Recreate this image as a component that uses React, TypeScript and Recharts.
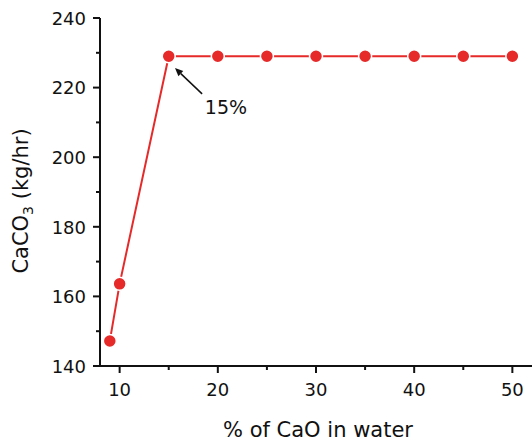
import { LineChart, Line, XAxis, YAxis, ReferenceLine, ReferenceDot } from 'recharts';

const caoPct = [9, 10, 15, 20, 25, 30, 35, 40, 45, 50];
const caco3 = [147.2, 163.6, 229, 229, 229, 229, 229, 229, 229, 229];

const xTicks = [10, 15, 20, 25, 30, 35, 40, 45, 50];
const xMajor = [10, 20, 30, 40, 50];
const yTicks = [140, 150, 160, 170, 180, 190, 200, 210, 220, 230, 240];
const yMajor = [140, 160, 180, 200, 220, 240];

const data = caoPct.map((x, i) => ({ x, y: caco3[i] }));

const RED = '#e62a2a';
const FONT = '"DejaVu Sans", sans-serif';

function XTick(props: any) {
  const { x, y, payload } = props;
  const major = xMajor.includes(payload.value);
  return (
    <g>
      <line x1={x} y1={y} x2={x} y2={y + (major ? 7 : 4)} stroke="#111" strokeWidth={2} />
      {major && (
        <text x={x} y={y + 29.5} textAnchor="middle" fontSize={18} fontFamily={FONT} fill="#111">
          {payload.value}
        </text>
      )}
    </g>
  );
}

function YTick(props: any) {
  const { x, y, payload } = props;
  const major = yMajor.includes(payload.value);
  return (
    <g>
      <line x1={x} y1={y} x2={x - (major ? 7 : 4)} y2={y} stroke="#111" strokeWidth={2} />
      {major && (
        <text x={x - 14} y={y} dy="0.38em" textAnchor="end" fontSize={18} fontFamily={FONT} fill="#111">
          {payload.value}
        </text>
      )}
    </g>
  );
}

function ArrowShape(props: any) {
  const { x1, y1, x2, y2 } = props;
  // arrow head at the (x1, y1) end
  const ang = Math.atan2(y1 - y2, x1 - x2);
  const len = 8;
  const w = 3.5;
  const bx = x1 - len * Math.cos(ang);
  const by = y1 - len * Math.sin(ang);
  const px = -Math.sin(ang) * w;
  const py = Math.cos(ang) * w;
  return (
    <g>
      <line x1={bx} y1={by} x2={x2} y2={y2} stroke="#111" strokeWidth={1.5} />
      <polygon points={`${x1},${y1} ${bx + px},${by + py} ${bx - px},${by - py}`} fill="#111" />
    </g>
  );
}

export default function App() {
  return (
    <div style={{ position: 'absolute', left: 0, top: 0 }}>
      <LineChart width={532} height={444} data={data} margin={{ top: 18, right: 0, left: 0, bottom: 0 }}>
        <XAxis
          dataKey="x"
          type="number"
          domain={[8, 52]}
          ticks={xTicks}
          allowDataOverflow
          height={78}
          tickSize={0}
          tickMargin={0}
          tick={<XTick />}
          axisLine={{ stroke: '#111', strokeWidth: 2 }}
          tickLine={false}
          interval={0}
          label={(p: any) => {
            const vb = p.viewBox;
            return (
              <text x={vb.x + vb.width / 2 + 2} y={vb.y + 71} textAnchor="middle" fontSize={21} fontFamily={FONT} fill="#111">
                % of CaO in water
              </text>
            );
          }}
        />
        <XAxis
          xAxisId="top"
          orientation="top"
          type="number"
          domain={[8, 52]}
          height={0}
          tick={false}
          tickLine={false}
          axisLine={{ stroke: '#333', strokeWidth: 1.5 }}
        />
        <YAxis
          type="number"
          domain={[140, 240]}
          ticks={yTicks}
          allowDataOverflow
          width={100}
          tickSize={0}
          tickMargin={0}
          tick={<YTick />}
          tickLine={false}
          interval={0}
          axisLine={{ stroke: '#111', strokeWidth: 2 }}
          label={(p: any) => {
            const vb = p.viewBox;
            const cx = vb.x + 28;
            const cy = vb.y + vb.height / 2 + 9;
            return (
              <text
                x={cx}
                y={cy}
                transform={`rotate(-90 ${cx} ${cy})`}
                textAnchor="middle"
                fontSize={21}
                fontFamily={FONT}
                fill="#111"
              >
                CaCO
                <tspan fontSize={14} dy={5}>3</tspan>
                <tspan dy={-5}> (kg/hr)</tspan>
              </text>
            );
          }}
        />
        <YAxis
          yAxisId="r"
          orientation="right"
          type="number"
          domain={[140, 240]}
          width={0}
          tick={false}
          tickLine={false}
          axisLine={{ stroke: '#bbb', strokeWidth: 2 }}
        />
        <ReferenceLine
          segment={[
            { x: 15.64, y: 225.6 },
            { x: 18.4, y: 218.2 },
          ]}
          shape={<ArrowShape />}
        />
        <ReferenceDot
          x={20.83}
          y={214.4}
          r={0}
          fill="none"
          stroke="none"
          label={{ value: '15%', position: 'center', fontSize: 19, fontFamily: FONT, fill: '#111' }}
        />
        <Line
          dataKey="y"
          stroke={RED}
          strokeWidth={2}
          dot={{ r: 6.5, fill: RED, stroke: '#fff', strokeWidth: 1.5 }}
          isAnimationActive={false}
        />
      </LineChart>
    </div>
  );
}
